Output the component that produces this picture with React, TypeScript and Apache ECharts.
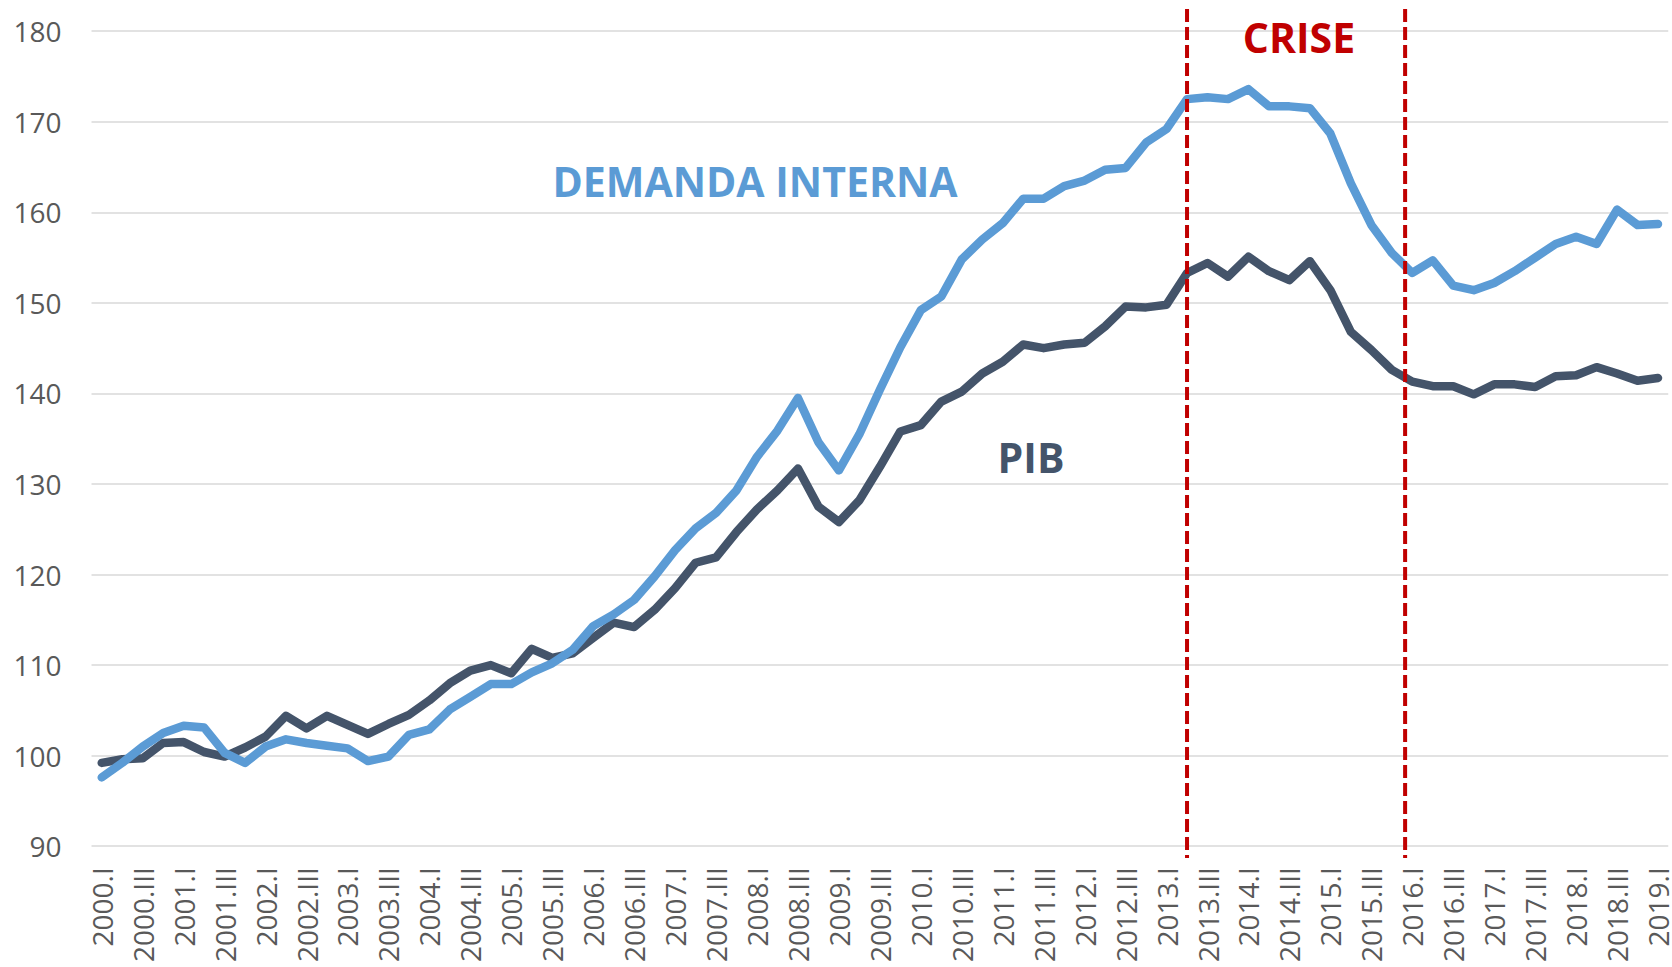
import { useEffect, useRef } from "react";
import * as echarts from "echarts";

const YEARS = [2000, 2001, 2002, 2003, 2004, 2005, 2006, 2007, 2008, 2009, 2010, 2011, 2012, 2013, 2014, 2015, 2016, 2017, 2018, 2019];
const QUARTERS = ["I", "II", "III", "IV"];
const LAST_LABEL = "2019.I";
const CATEGORIES: string[] = [];
for (const y of YEARS) {
  for (const q of QUARTERS) {
    const label = `${y}.${q}`;
    if (CATEGORIES.length && CATEGORIES[CATEGORIES.length - 1] === LAST_LABEL) break;
    CATEGORIES.push(label);
  }
}

const PIB = [
  99.2, 99.6, 99.7, 101.4, 101.5, 100.4, 99.9, 100.9, 102.1, 104.4,
  103.0, 104.4, 103.4, 102.4, 103.5, 104.5, 106.1, 108.0, 109.4, 110.0,
  109.1, 111.8, 110.8, 111.3, 113.0, 114.7, 114.2, 116.1, 118.5, 121.3,
  121.9, 124.7, 127.2, 129.3, 131.7, 127.5, 125.8, 128.2, 131.9, 135.8,
  136.5, 139.1, 140.2, 142.2, 143.5, 145.4, 145.0, 145.4, 145.6, 147.4,
  149.6, 149.5, 149.8, 153.3, 154.4, 152.9, 155.1, 153.5, 152.5, 154.6,
  151.4, 146.8, 144.8, 142.6, 141.3, 140.8, 140.8, 139.9, 141.0, 141.0,
  140.7, 141.9, 142.0, 142.9, 142.2, 141.4, 141.7,
];

const DEMANDA_INTERNA = [
  97.6, 99.2, 101.0, 102.5, 103.3, 103.1, 100.3, 99.2, 101.0, 101.8,
  101.4, 101.1, 100.8, 99.4, 99.9, 102.3, 102.9, 105.1, 106.5, 107.9,
  107.9, 109.2, 110.2, 111.7, 114.3, 115.6, 117.2, 119.8, 122.7, 125.1,
  126.8, 129.3, 133.0, 135.9, 139.5, 134.6, 131.5, 135.5, 140.4, 145.1,
  149.2, 150.7, 154.8, 157.0, 158.8, 161.5, 161.5, 162.9, 163.5, 164.7,
  164.9, 167.7, 169.2, 172.5, 172.7, 172.5, 173.6, 171.7, 171.7, 171.5,
  168.7, 163.2, 158.6, 155.5, 153.3, 154.7, 151.9, 151.4, 152.2, 153.5,
  155.0, 156.5, 157.3, 156.5, 160.3, 158.6, 158.7,
];

const CRISIS_START = "2013.II";
const CRISIS_END_A = "2015.IV";
const CRISIS_END_B = "2016.I";
const CRISIS_END_FRACTION = 0.65;

const Y_MIN = 90;
const Y_MAX = 180;
const Y_STEP = 10;

const LABEL_FONT = "'Open Sans', 'Noto Sans', sans-serif";

export default function App() {
  const ref = useRef<HTMLDivElement | null>(null);

  useEffect(() => {
    if (!ref.current) return;
    const chart = echarts.init(ref.current, undefined, { renderer: "svg" });
    chart.setOption({
      animation: false,
      backgroundColor: "#ffffff",
      grid: { left: 91.5, top: 31.2, width: 1578, height: 815, containLabel: false },
      xAxis: {
        type: "category",
        data: CATEGORIES,
        boundaryGap: true,
        axisLine: { show: false },
        axisTick: { show: false },
        splitLine: { show: false },
        axisLabel: {
          interval: 1,
          rotate: 90,
          margin: 21,
          color: "#595959",
          fontSize: 28,
          fontFamily: LABEL_FONT,
        },
      },
      yAxis: {
        type: "value",
        min: Y_MIN,
        max: Y_MAX,
        interval: Y_STEP,
        axisLine: { show: false },
        axisTick: { show: false },
        axisLabel: {
          margin: 30,
          color: "#595959",
          fontSize: 28,
          fontFamily: LABEL_FONT,
        },
        splitLine: { lineStyle: { color: "#D9D9D9", width: 1.5 } },
      },
      series: [
        {
          type: "line",
          name: "PIB",
          data: PIB,
          symbol: "none",
          lineStyle: { color: "#44546A", width: 8.5, cap: "round", join: "round" },
        },
        {
          type: "line",
          name: "DEMANDA INTERNA",
          data: DEMANDA_INTERNA,
          symbol: "none",
          lineStyle: { color: "#5B9BD5", width: 8.5, cap: "round", join: "round" },
        },
      ],
    });

    const x1 = chart.convertToPixel({ xAxisIndex: 0 }, CRISIS_START) as number;
    const xa = chart.convertToPixel({ xAxisIndex: 0 }, CRISIS_END_A) as number;
    const xb = chart.convertToPixel({ xAxisIndex: 0 }, CRISIS_END_B) as number;
    const x2 = xa + (xb - xa) * CRISIS_END_FRACTION;
    const yTop = chart.convertToPixel({ yAxisIndex: 0 }, 182.45) as number;
    const yBot = chart.convertToPixel({ yAxisIndex: 0 }, 88.7) as number;
    const dash = { stroke: "#C00000", lineWidth: 4, lineDash: [13, 5] };
    const textFont = { fontSize: 41, fontWeight: "bold", fontFamily: LABEL_FONT, align: "center", verticalAlign: "middle" };

    chart.setOption({
      graphic: [
        { type: "line", shape: { x1: x1, y1: yTop, x2: x1, y2: yBot }, style: dash, z: 10 },
        { type: "line", shape: { x1: x2, y1: yTop, x2: x2, y2: yBot }, style: dash, z: 10 },
        { type: "text", x: 755, y: 181, style: { ...textFont, text: "DEMANDA INTERNA", fill: "#5B9BD5" }, z: 11 },
        { type: "text", x: 1031, y: 457, style: { ...textFont, text: "PIB", fill: "#44546A" }, z: 11 },
        { type: "text", x: 1299, y: 37, style: { ...textFont, text: "CRISE", fill: "#C00000" }, z: 11 },
      ],
    });

    return () => chart.dispose();
  }, []);

  return (
    <div
      ref={ref}
      style={{ position: "fixed", left: 0, top: 0, width: 1672, height: 967, background: "#fff" }}
    />
  );
}
